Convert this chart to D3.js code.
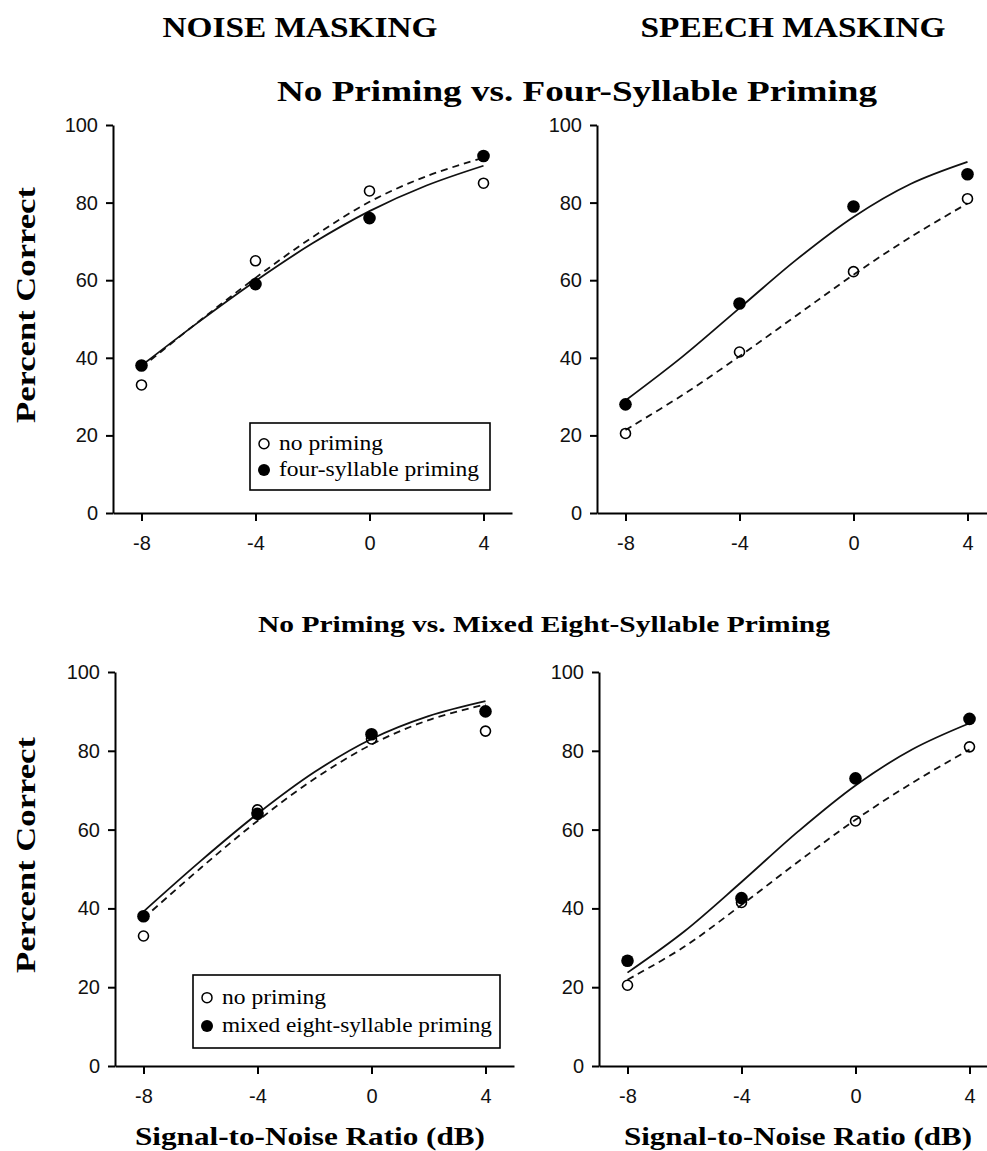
<!DOCTYPE html>
<html>
<head>
<meta charset="utf-8">
<script src="https://cdn.jsdelivr.net/npm/d3@7"></script>
<style>
  body { margin: 0; background: #fff; }
  svg { display: block; }
</style>
</head>
<body>
<div id="chart"></div>
<script>
// x values (dB) and y ticks
const snr = [-8, -4, 0, 4];
const fitSnr = [-8, -6, -4, -2, 0, 2, 4];
const yTicks = [0, 20, 40, 60, 80, 100];

// observed percent correct
const noPrimingNoise = [33, 65, 83, 85];
const fourSyllableNoise = [38, 59, 76, 92];
const noPrimingSpeech = [20.5, 41.5, 62.2, 81];
const fourSyllableSpeech = [28, 54, 79, 87.3];
const mixedEightNoise = [38, 64, 84.2, 90];
const mixedEightSpeech = [26.7, 42.6, 73, 88.1];

// fitted curves at fitSnr
const fitNoPrimingNoiseTop = [37.5, 49.3, 60.6, 71.1, 80.2, 86.8, 91.6];
const fitFourSyllableNoise = [38, 49.2, 59.8, 69.5, 77.8, 84.4, 89.5];
const fitNoPrimingSpeechTop = [21.4, 30.4, 40.4, 50.9, 61.4, 71.1, 79.8];
const fitFourSyllableSpeech = [29, 40.3, 52.8, 65.3, 76.3, 84.8, 90.5];
const fitNoPrimingNoiseBottom = [37.5, 50.2, 62.2, 72.9, 81.6, 87.8, 91.8];
const fitMixedEightNoise = [39.2, 52, 64, 74.6, 83, 88.8, 92.6];
const fitNoPrimingSpeechBottom = [21.9, 30.3, 40.9, 51.9, 62.5, 71.9, 80.3];
const fitMixedEightSpeech = [23.7, 34.2, 46.7, 59.6, 71.2, 80.4, 87];

const legendOpen = "no priming";
const legendFour = "four-syllable priming";
const legendMixed = "mixed eight-syllable priming";

const W = 987, H = 1151;
const serif = "'Liberation Serif', 'Times New Roman', serif";
const sans = "'Liberation Sans', Arial, sans-serif";

const svg = d3.select("#chart").append("svg")
    .attr("width", W)
    .attr("height", H);

const panels = [
    {left: 113, top: 125, bottom: 513, open: noPrimingNoise, filled: fourSyllableNoise,
     openFit: fitNoPrimingNoiseTop, filledFit: fitFourSyllableNoise,
     legend: {x: 250, y: 423, w: 240, h: 67, label: legendFour, lens: [104, 200]}},
    {left: 597, top: 125, bottom: 513, open: noPrimingSpeech, filled: fourSyllableSpeech,
     openFit: fitNoPrimingSpeechTop, filledFit: fitFourSyllableSpeech},
    {left: 115, top: 672, bottom: 1066, open: noPrimingNoise, filled: mixedEightNoise,
     openFit: fitNoPrimingNoiseBottom, filledFit: fitMixedEightNoise,
     legend: {x: 193, y: 975, w: 307, h: 73, label: legendMixed, lens: [104, 270]}},
    {left: 599, top: 672, bottom: 1066, open: noPrimingSpeech, filled: mixedEightSpeech,
     openFit: fitNoPrimingSpeechBottom, filledFit: fitMixedEightSpeech}
];

panels.forEach((p) => {
    const x = d3.scaleLinear().domain([-9, 5]).range([p.left, p.left + 399]);
    const y = d3.scaleLinear().domain([0, 100]).range([p.bottom, p.top]);
    const g = svg.append("g");

    const xAxis = g.append("g")
        .attr("transform", "translate(0," + p.bottom + ")")
        .call(d3.axisBottom(x).tickValues(snr).tickFormat((d) => String(d))
            .tickSize(8).tickSizeOuter(0).tickPadding(15));
    const yAxis = g.append("g")
        .attr("transform", "translate(" + p.left + ",0)")
        .call(d3.axisLeft(y).tickValues(yTicks).tickFormat((d) => String(d))
            .tickSize(7).tickSizeOuter(0).tickPadding(8));

    [xAxis, yAxis].forEach((a) => {
        a.selectAll("path, line").attr("stroke", "#000").attr("stroke-width", 2);
        a.selectAll("text")
            .attr("font-family", sans)
            .attr("font-size", 20)
            .attr("fill", "#111");
    });

    const line = d3.line()
        .x((d, i) => x(fitSnr[i]))
        .y((d) => y(d))
        .curve(d3.curveCatmullRom.alpha(0.5));

    g.append("path")
        .attr("d", line(p.openFit))
        .attr("fill", "none")
        .attr("stroke", "#111")
        .attr("stroke-width", 1.8)
        .attr("stroke-dasharray", "7,5");

    g.append("path")
        .attr("d", line(p.filledFit))
        .attr("fill", "none")
        .attr("stroke", "#111")
        .attr("stroke-width", 1.8);

    g.selectAll(".open")
        .data(p.open)
        .enter()
        .append("circle")
        .attr("cx", (d, i) => x(snr[i]))
        .attr("cy", (d) => y(d))
        .attr("r", 5)
        .attr("fill", "none")
        .attr("stroke", "#000")
        .attr("stroke-width", 1.6);

    g.selectAll(".filled")
        .data(p.filled)
        .enter()
        .append("circle")
        .attr("cx", (d, i) => x(snr[i]))
        .attr("cy", (d) => y(d))
        .attr("r", 6.3)
        .attr("fill", "#000");

    if (p.legend) {
        const L = p.legend;
        const lg = g.append("g").attr("transform", "translate(" + L.x + "," + L.y + ")");
        lg.append("rect")
            .attr("width", L.w)
            .attr("height", L.h)
            .attr("fill", "#fff")
            .attr("stroke", "#000")
            .attr("stroke-width", 1.6);
        const rowY = [L.h * 0.31, L.h * 0.7];
        lg.append("circle").attr("cx", 14).attr("cy", rowY[0]).attr("r", 5)
            .attr("fill", "none").attr("stroke", "#000").attr("stroke-width", 1.5);
        lg.append("circle").attr("cx", 14).attr("cy", rowY[1]).attr("r", 6)
            .attr("fill", "#000");
        [legendOpen, L.label].forEach((t, i) => {
            lg.append("text")
                .attr("x", 29)
                .attr("y", rowY[i] + 6)
                .attr("font-family", serif)
                .attr("font-size", 21)
                .attr("textLength", L.lens[i])
                .attr("lengthAdjust", "spacingAndGlyphs")
                .attr("fill", "#000")
                .text(t);
        });
    }
});

// headings
const heads = [
    {text: "NOISE MASKING", x: 300, y: 37, size: 30, len: 275},
    {text: "SPEECH MASKING", x: 793, y: 37, size: 30, len: 305},
    {text: "No Priming vs. Four-Syllable Priming", x: 577, y: 101, size: 30, len: 600},
    {text: "No Priming vs. Mixed Eight-Syllable Priming", x: 544, y: 632, size: 23, len: 572},
    {text: "Signal-to-Noise Ratio (dB)", x: 310, y: 1145, size: 26, len: 350},
    {text: "Signal-to-Noise Ratio (dB)", x: 798, y: 1145, size: 26, len: 348}
];

heads.forEach((h) => {
    svg.append("text")
        .attr("x", h.x)
        .attr("y", h.y)
        .attr("text-anchor", "middle")
        .attr("font-family", serif)
        .attr("font-weight", "bold")
        .attr("font-size", h.size)
        .attr("textLength", h.len)
        .attr("lengthAdjust", "spacingAndGlyphs")
        .text(h.text);
});

[305, 855].forEach((cy) => {
    svg.append("text")
        .attr("transform", "translate(35," + cy + ") rotate(-90)")
        .attr("text-anchor", "middle")
        .attr("font-family", serif)
        .attr("font-weight", "bold")
        .attr("font-size", 28)
        .attr("textLength", 236)
        .attr("lengthAdjust", "spacingAndGlyphs")
        .text("Percent Correct");
});
</script>
</body>
</html>
